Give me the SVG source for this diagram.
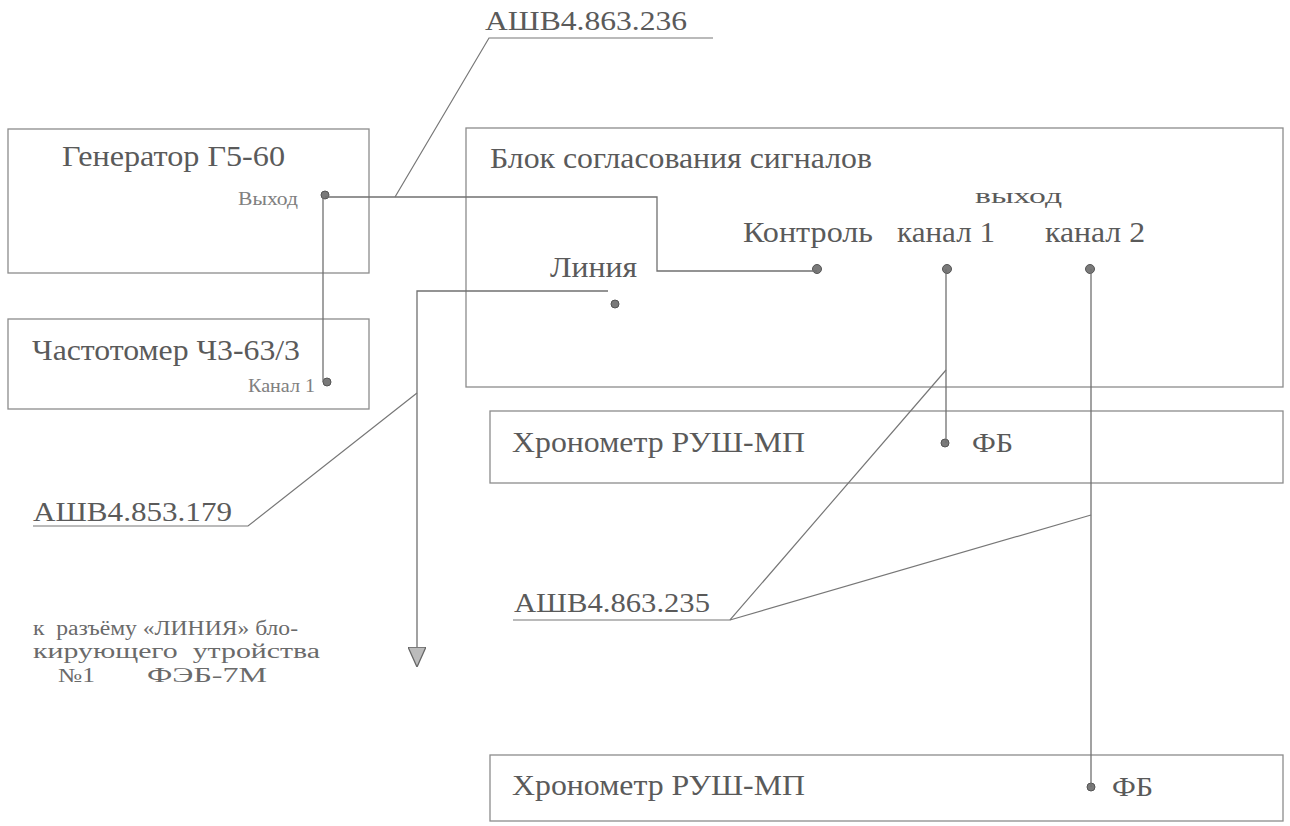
<svg xmlns="http://www.w3.org/2000/svg" width="1290" height="826" viewBox="0 0 1290 826">
<style>
.box{fill:none;stroke:#8c8c8c;stroke-width:1.3}
.wire{fill:none;stroke:#707070;stroke-width:1.3}
.lead{fill:none;stroke:#777;stroke-width:1.2}
.t{font-family:"Liberation Serif","DejaVu Serif","Times New Roman",serif;fill:#5a5a5a}
.big{font-size:30px}
.mid{font-size:28px}
.sm{font-size:19px;fill:#808080}
.note{font-size:20px;fill:#6a6a6a}
.dot{fill:#7a7a7a;stroke:#555;stroke-width:1}
</style>
<defs>
<marker id="arr" viewBox="0 0 20 18" refX="0" refY="9" markerWidth="20" markerHeight="18" markerUnits="userSpaceOnUse" orient="auto">
<path d="M0,0 L0,18 L20,9 Z" fill="#bbb" stroke="#666" stroke-width="1.3"/>
</marker>
</defs>
<rect width="1290" height="826" fill="#fff"/>

<g id="generator">
<rect class="box" x="8" y="129" width="361" height="144"/>
<text class="t big" x="62" y="166" textLength="223" lengthAdjust="spacingAndGlyphs">Генератор Г5-60</text>
<text class="t sm" x="238" y="205" textLength="60" lengthAdjust="spacingAndGlyphs">Выход</text>
<circle class="dot" cx="325" cy="195" r="4"/>
</g>

<g id="freqmeter">
<rect class="box" x="8" y="319" width="361" height="90"/>
<text class="t big" x="32" y="360" textLength="268" lengthAdjust="spacingAndGlyphs">Частотомер Ч3-63/3</text>
<text class="t sm" x="248" y="392" textLength="67" lengthAdjust="spacingAndGlyphs">Канал 1</text>
<circle class="dot" cx="327" cy="382" r="4"/>
</g>

<g id="block">
<rect class="box" x="466" y="128" width="817" height="259"/>
<text class="t big" x="490" y="168" textLength="382" lengthAdjust="spacingAndGlyphs">Блок согласования сигналов</text>
<text class="t" x="975" y="203" font-size="20" fill="#808080" textLength="87" lengthAdjust="spacingAndGlyphs">выход</text>
<text class="t big" x="743" y="242" textLength="130" lengthAdjust="spacingAndGlyphs">Контроль</text>
<text class="t big" x="897" y="242" textLength="98" lengthAdjust="spacingAndGlyphs">канал 1</text>
<text class="t big" x="1045" y="242" textLength="100" lengthAdjust="spacingAndGlyphs">канал 2</text>
<text class="t big" x="550" y="277" textLength="87" lengthAdjust="spacingAndGlyphs">Линия</text>
<circle class="dot" cx="817" cy="269" r="4.5"/>
<circle class="dot" cx="947" cy="269" r="4.5"/>
<circle class="dot" cx="1090" cy="269" r="4.5"/>
<circle class="dot" cx="615" cy="304" r="4"/>
</g>

<g id="chrono1">
<rect class="box" x="490" y="411" width="793" height="72"/>
<text class="t big" x="512" y="452" textLength="293" lengthAdjust="spacingAndGlyphs">Хронометр РУШ-МП</text>
<circle class="dot" cx="945" cy="443" r="4"/>
<text class="t mid" x="972" y="452" textLength="41" lengthAdjust="spacingAndGlyphs">ФБ</text>
</g>

<g id="chrono2">
<rect class="box" x="490" y="755" width="793" height="66"/>
<text class="t big" x="512" y="795" textLength="293" lengthAdjust="spacingAndGlyphs">Хронометр РУШ-МП</text>
<circle class="dot" cx="1091" cy="787" r="4"/>
<text class="t mid" x="1112" y="796" textLength="41" lengthAdjust="spacingAndGlyphs">ФБ</text>
</g>

<g id="label-236">
<text class="t mid" x="485" y="30" textLength="202" lengthAdjust="spacingAndGlyphs">АШВ4.863.236</text>
</g>
<g id="label-179">
<text class="t mid" x="33" y="521" textLength="199" lengthAdjust="spacingAndGlyphs">АШВ4.853.179</text>
</g>
<g id="label-235">
<text class="t mid" x="514" y="612" textLength="196" lengthAdjust="spacingAndGlyphs">АШВ4.863.235</text>
</g>
<g id="note">
<text class="t note" x="33" y="635" textLength="265" lengthAdjust="spacingAndGlyphs" xml:space="preserve">к  разъёму «ЛИНИЯ» бло-</text>
<text class="t note" x="33" y="658" textLength="287" lengthAdjust="spacingAndGlyphs" xml:space="preserve">кирующего  утройства</text>
<text class="t note" x="58" y="682" textLength="37" lengthAdjust="spacingAndGlyphs">№1</text>
<text class="t note" x="147" y="682" textLength="120" lengthAdjust="spacingAndGlyphs">ФЭБ-7М</text>
</g>

<g id="connectors">
<path class="wire" d="M325,197 H657 V271 H817"/>
<path class="wire" d="M323,197 V382"/>
<path class="wire" d="M608,291 H417 V647" marker-end="url(#arr)"/>
<path class="wire" d="M946,269 V443"/>
<path class="wire" d="M1091,269 V787"/>
<path class="lead" d="M713,38 H489 L395,197"/>
<path class="lead" d="M33,526 H248 L417,393"/>
<path class="lead" d="M513,620 H730 L946,370"/>
<path class="lead" d="M730,620 L1091,515"/>
</g>
</svg>
